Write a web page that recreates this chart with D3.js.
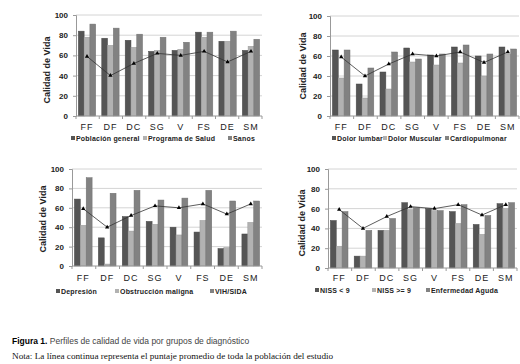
<!DOCTYPE html>
<html>
<head>
  <meta charset="utf-8">
  <script type="text/javascript" src="https://cdn.jsdelivr.net/npm/d3@7"></script>
  <style>
    body { margin: 0; background: #fff; }
    svg text { font-family: "Liberation Sans", Arial, sans-serif; }
  </style>
</head>
<body>
<div id="viz"></div>
<script type="text/javascript">
// categorias (dominios de calidad de vida)
var categories = ["FF", "DF", "DC", "SG", "V", "FS", "DE", "SM"];
var yTicks = [0, 20, 40, 60, 80, 100];
// promedio de toda la poblacion (linea continua)
var promedio = [59, 40, 52, 62, 60, 64, 53.5, 64];

// panel 1
var poblacionGeneral = [84, 77, 75, 64, 65, 83, 74, 65];
var programaSalud    = [78, 70, 68, 65, 66, 78, 74, 69];
var sanos            = [91, 87, 81, 78, 73, 83, 84, 76];
// panel 2
var dolorLumbar    = [66, 32, 44, 68, 61, 69, 60, 69];
var dolorMuscular  = [38, 18, 27, 54, 51, 53, 40, 62];
var cardiopulmonar = [66, 48, 64, 57, 62, 71, 62, 67];
// panel 3
var depresion   = [69, 29, 51, 46, 40, 35, 18, 33];
var obstruccion = [42, 2, 36, 43, 32, 47, 19, 45];
var vihSida     = [91, 75, 78, 68, 70, 78, 67, 67];
// panel 4
var nissMenor        = [48, 12, 38, 66, 60, 57, 44, 65];
var nissMayor        = [22, 12, 38, 59, 58, 45, 34, 60];
var enfermedadAguda  = [57, 38, 50, 61, 58, 64, 53, 66];

var colors = ["#555555", "#b2b2b2", "#828282"];

var svg = d3.select("#viz").append("svg")
  .attr("width", 520).attr("height", 364);

var panels = [
  { left: 76, right: 262, top: 15, bottom: 116, labelX: 47, labelY: 70, xLabY: 130, legY: 141,
    names: ["Población general", "Programa de Salud", "Sanos"], legX: [71, 143, 228],
    series: [poblacionGeneral, programaSalud, sanos] },
  { left: 330, right: 519, top: 16, bottom: 116, labelX: 303, labelY: 66, xLabY: 130, legY: 141,
    names: ["Dolor lumbar", "Dolor Muscular", "Cardiopulmonar"], legX: [332, 383, 445],
    series: [dolorLumbar, dolorMuscular, cardiopulmonar] },
  { left: 72, right: 262, top: 169, bottom: 266, labelX: 43, labelY: 219, xLabY: 281, legY: 294,
    names: ["Depresión", "Obstrucción maligna", "VIH/SIDA"], legX: [56, 115, 210],
    series: [depresion, obstruccion, vihSida] },
  { left: 328, right: 517, top: 169, bottom: 268, labelX: 302, labelY: 223, xLabY: 281, legY: 293,
    names: ["NISS < 9", "NISS >= 9", "Enfermedad Aguda"], legX: [315, 372, 426],
    series: [nissMenor, nissMayor, enfermedadAguda] }
];

panels.forEach(drawPanel);

function drawPanel(p) {
  var g = svg.append("g");
  var y = d3.scaleLinear().domain([0, 100]).range([p.bottom, p.top]);
  var x = d3.scaleBand().domain(categories).range([p.left, p.right])
    .paddingInner(0.26).paddingOuter(0.1);
  var xs = d3.scaleBand().domain([0, 1, 2]).range([0, x.bandwidth()]);

  // grid
  g.selectAll(".grid").data(yTicks.slice(1)).enter().append("line")
    .attr("x1", p.left).attr("x2", p.right)
    .attr("y1", function(d){ return y(d); }).attr("y2", function(d){ return y(d); })
    .attr("stroke", "#d4d4d4").attr("stroke-width", 1);

  // y axis
  var ya = g.append("g").attr("transform", "translate(" + p.left + ",0)")
    .call(d3.axisLeft(y).tickValues(yTicks).tickSize(3).tickPadding(5));
  ya.select(".domain").attr("stroke", "#999");
  ya.selectAll(".tick line").attr("stroke", "#999");
  ya.selectAll("text").attr("font-size", 8).attr("font-weight", "bold").attr("fill", "#222");

  // bars
  p.series.forEach(function(vals, si) {
    g.selectAll(".s" + si).data(vals).enter().append("rect")
      .attr("x", function(d, i){ return x(categories[i]) + xs(si); })
      .attr("width", xs.bandwidth())
      .attr("y", function(d){ return y(d); })
      .attr("height", function(d){ return p.bottom - y(d); })
      .attr("fill", colors[si])
      .attr("stroke", d3.color(colors[si]).darker(0.4))
      .attr("stroke-width", 0.5);
  });

  // x axis
  g.append("line").attr("x1", p.left).attr("x2", p.right)
    .attr("y1", p.bottom).attr("y2", p.bottom).attr("stroke", "#999");
  g.selectAll(".xt").data(d3.range(categories.length + 1)).enter().append("line")
    .attr("x1", function(i){ return p.left + i * (p.right - p.left) / categories.length; })
    .attr("x2", function(i){ return p.left + i * (p.right - p.left) / categories.length; })
    .attr("y1", p.bottom).attr("y2", p.bottom + 3).attr("stroke", "#999");
  g.selectAll(".xl").data(categories).enter().append("text")
    .attr("x", function(d){ return x(d) + x.bandwidth() / 2; })
    .attr("y", p.xLabY)
    .attr("text-anchor", "middle")
    .attr("font-size", 9).attr("letter-spacing", 1).attr("fill", "#222")
    .text(function(d){ return d; });

  // linea promedio
  var line = d3.line()
    .x(function(d, i){ return x(categories[i]) + x.bandwidth() / 2; })
    .y(function(d){ return y(d); });
  g.append("path").datum(promedio).attr("d", line)
    .attr("fill", "none").attr("stroke", "#333").attr("stroke-width", 0.8);
  g.selectAll(".mk").data(promedio).enter().append("path")
    .attr("d", d3.symbol(d3.symbolTriangle, 8))
    .attr("transform", function(d, i){
      return "translate(" + (x(categories[i]) + x.bandwidth() / 2) + "," + y(d) + ")";
    })
    .attr("fill", "#000");

  // y title
  g.append("text")
    .attr("transform", "translate(" + p.labelX + "," + p.labelY + ") rotate(-90)")
    .attr("text-anchor", "middle").attr("dy", "0.35em")
    .attr("font-size", 9).attr("font-weight", "bold").attr("fill", "#222")
    .text("Calidad de Vida");

  // legend
  p.names.forEach(function(n, i) {
    g.append("rect").attr("x", p.legX[i]).attr("y", p.legY - 5)
      .attr("width", 4).attr("height", 4).attr("fill", colors[i]);
    g.append("text").attr("x", p.legX[i] + 5).attr("y", p.legY)
      .attr("font-size", 7).attr("font-weight", "bold").attr("letter-spacing", 0.2)
      .attr("fill", "#222").text(n);
  });
}

// caption
var cap = svg.append("text").attr("x", 12).attr("y", 344).attr("font-size", 8.5);
cap.append("tspan").attr("font-weight", "bold").attr("fill", "#000").text("Figura 1.");
cap.append("tspan").attr("fill", "#444").text(" Perfiles de calidad de vida por grupos de diagnóstico");
svg.append("text").attr("x", 12).attr("y", 359)
  .style("font-family", "'Liberation Serif', 'Times New Roman', serif")
  .attr("font-size", 9.2).attr("fill", "#111")
  .text("Nota: La línea continua representa el puntaje promedio de toda la población del estudio");
</script>
</body>
</html>
